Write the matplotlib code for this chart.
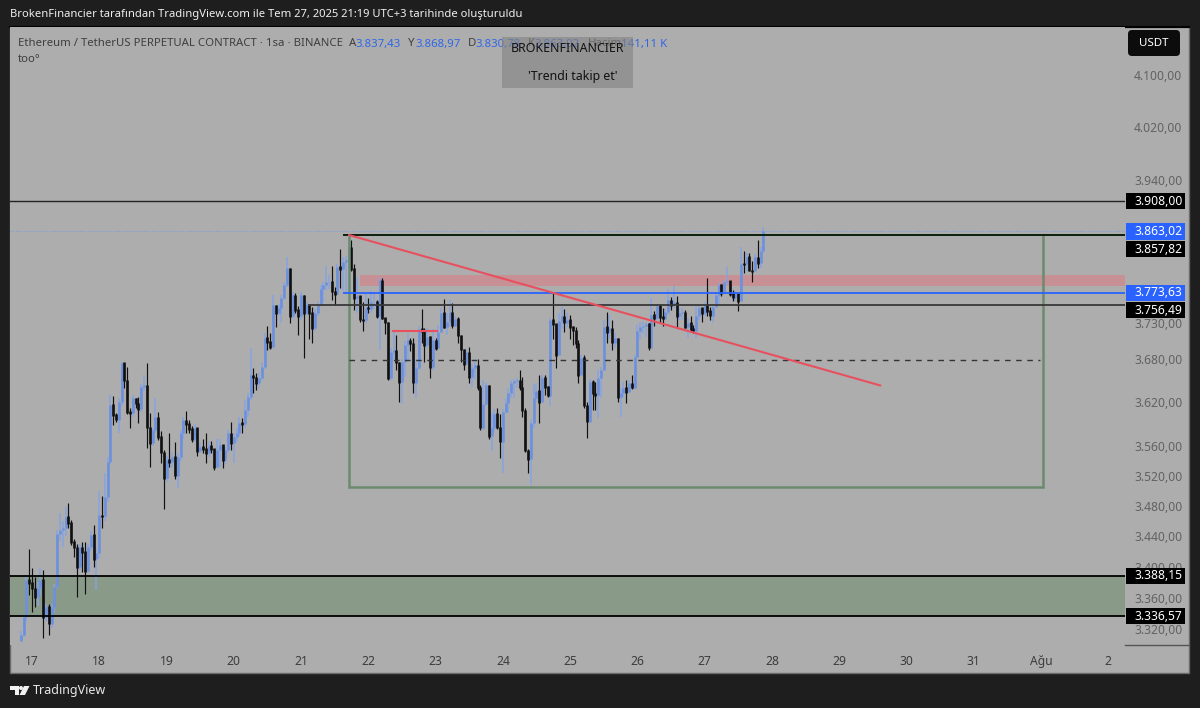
import matplotlib
matplotlib.use("Agg")
import matplotlib.pyplot as plt
from matplotlib.patches import Rectangle, Polygon, Circle, FancyBboxPatch
from matplotlib.ticker import NullLocator
from matplotlib.transforms import IdentityTransform

# hourly bars, open = previous close
first_open = 3305
closes = [3313, 3335, 3383, 3379, 3372, 3361, 3372, 3383, 3335, 3348,
          3327, 3348, 3374, 3443, 3448, 3451, 3465, 3457, 3432, 3425,
          3399, 3425, 3419, 3394, 3425, 3441, 3410, 3418, 3467, 3466,
          3491, 3538, 3616, 3602, 3596, 3620, 3674, 3650, 3606, 3605,
          3625, 3618, 3610, 3641, 3643, 3585, 3564, 3581, 3599, 3572,
          3551, 3517, 3541, 3538, 3545, 3520, 3545, 3577, 3595, 3590,
          3583, 3569, 3585, 3553, 3559, 3556, 3550, 3560, 3556, 3531,
          3554, 3561, 3541, 3554, 3577, 3564, 3572, 3577, 3591, 3590,
          3609, 3627, 3657, 3654, 3646, 3653, 3668, 3710, 3704, 3697,
          3756, 3745, 3752, 3766, 3785, 3809, 3740, 3770, 3749, 3740,
          3770, 3745, 3756, 3745, 3723, 3745, 3756, 3780, 3785, 3789,
          3790, 3776, 3772, 3811, 3808, 3818, 3822, 3840, 3808, 3766,
          3769, 3736, 3735, 3752, 3751, 3760, 3761, 3740, 3792, 3738,
          3731, 3653, 3689, 3692, 3675, 3648, 3675, 3699, 3706, 3702,
          3647, 3667, 3722, 3719, 3699, 3711, 3668, 3706, 3695, 3718,
          3745, 3725, 3732, 3746, 3727, 3737, 3713, 3693, 3673, 3689,
          3655, 3667, 3671, 3640, 3585, 3618, 3643, 3573, 3585, 3604,
          3585, 3566, 3606, 3619, 3633, 3646, 3649, 3650, 3640, 3608,
          3554, 3542, 3591, 3625, 3635, 3620, 3654, 3641, 3629, 3735,
          3729, 3685, 3733, 3740, 3731, 3735, 3725, 3720, 3702, 3657,
          3681, 3615, 3593, 3648, 3632, 3630, 3654, 3664, 3725, 3718,
          3723, 3703, 3709, 3627, 3632, 3640, 3634, 3646, 3640, 3682,
          3720, 3725, 3727, 3729, 3696, 3742, 3738, 3755, 3739, 3737,
          3746, 3763, 3756, 3760, 3740, 3745, 3746, 3725, 3731, 3722,
          3720, 3740, 3752, 3745, 3756, 3748, 3741, 3754, 3771, 3785,
          3773, 3789, 3791, 3772, 3767, 3773, 3762, 3816, 3815, 3826,
          3806, 3805, 3825, 3817, 3835, 3863.02]
highs = [3318, 3338, 3388, 3423, 3398, 3387, 3380, 3398, 3395, 3352,
         3352, 3352, 3378, 3448, 3470, 3460, 3478, 3483, 3461, 3436,
         3430, 3430, 3432, 3432, 3430, 3446, 3454, 3425, 3500, 3493,
         3524, 3545, 3630, 3628, 3605, 3625, 3676, 3671, 3668, 3612,
         3630, 3626, 3627, 3645, 3657, 3674, 3605, 3585, 3625, 3606,
         3580, 3554, 3546, 3577, 3552, 3565, 3550, 3582, 3600, 3608,
         3595, 3587, 3590, 3577, 3565, 3569, 3577, 3567, 3567, 3555,
         3570, 3570, 3561, 3558, 3582, 3592, 3578, 3585, 3600, 3598,
         3623, 3632, 3696, 3667, 3660, 3660, 3675, 3716, 3727, 3716,
         3770, 3756, 3758, 3770, 3790, 3825, 3809, 3775, 3773, 3755,
         3775, 3770, 3760, 3756, 3753, 3750, 3760, 3785, 3790, 3813,
         3800, 3812, 3782, 3816, 3838, 3825, 3827, 3858, 3850, 3815,
         3796, 3769, 3760, 3772, 3766, 3777, 3775, 3763, 3797, 3795,
         3738, 3732, 3695, 3720, 3713, 3675, 3680, 3705, 3716, 3710,
         3710, 3680, 3726, 3751, 3723, 3723, 3712, 3722, 3709, 3728,
         3752, 3765, 3745, 3763, 3759, 3741, 3739, 3713, 3694, 3694,
         3697, 3673, 3680, 3680, 3643, 3650, 3647, 3643, 3605, 3610,
         3612, 3604, 3610, 3625, 3640, 3650, 3652, 3653, 3664, 3655,
         3612, 3556, 3596, 3645, 3646, 3658, 3658, 3657, 3642, 3738,
         3775, 3725, 3745, 3753, 3751, 3745, 3742, 3726, 3725, 3706,
         3685, 3685, 3620, 3652, 3650, 3648, 3665, 3668, 3735, 3746,
         3742, 3735, 3716, 3709, 3640, 3648, 3650, 3650, 3658, 3686,
         3728, 3732, 3732, 3732, 3730, 3766, 3748, 3758, 3756, 3752,
         3750, 3780, 3768, 3783, 3769, 3752, 3752, 3749, 3738, 3741,
         3728, 3755, 3755, 3752, 3760, 3795, 3754, 3756, 3774, 3788,
         3787, 3792, 3811, 3790, 3778, 3776, 3773, 3840, 3834, 3832,
         3831, 3820, 3830, 3850, 3840, 3868.97]
lows = [3305, 3310, 3330, 3364, 3342, 3348, 3350, 3362, 3309, 3330,
        3312, 3322, 3340, 3372, 3434, 3425, 3440, 3450, 3428, 3412,
        3361, 3395, 3393, 3365, 3392, 3420, 3399, 3370, 3410, 3451,
        3460, 3485, 3535, 3588, 3593, 3577, 3615, 3640, 3604, 3584,
        3600, 3612, 3591, 3606, 3635, 3557, 3531, 3560, 3578, 3568,
        3537, 3476, 3512, 3531, 3530, 3516, 3504, 3540, 3570, 3578,
        3578, 3566, 3565, 3546, 3550, 3550, 3537, 3545, 3550, 3527,
        3530, 3531, 3530, 3536, 3550, 3555, 3537, 3565, 3572, 3577,
        3585, 3600, 3623, 3632, 3636, 3640, 3650, 3666, 3693, 3694,
        3695, 3725, 3742, 3731, 3764, 3782, 3731, 3738, 3745, 3714,
        3735, 3681, 3742, 3708, 3702, 3720, 3740, 3755, 3760, 3778,
        3780, 3763, 3756, 3770, 3781, 3777, 3775, 3775, 3806, 3749,
        3745, 3732, 3719, 3730, 3745, 3745, 3750, 3738, 3692, 3736,
        3715, 3651, 3650, 3680, 3664, 3620, 3618, 3655, 3675, 3691,
        3633, 3626, 3664, 3702, 3675, 3695, 3654, 3665, 3693, 3695,
        3716, 3723, 3713, 3725, 3724, 3725, 3702, 3675, 3664, 3675,
        3647, 3641, 3650, 3636, 3581, 3581, 3615, 3569, 3553, 3580,
        3583, 3543, 3524, 3605, 3605, 3625, 3625, 3640, 3637, 3600,
        3552, 3524, 3507, 3585, 3620, 3591, 3620, 3630, 3627, 3615,
        3708, 3667, 3685, 3722, 3718, 3725, 3708, 3700, 3695, 3646,
        3657, 3612, 3571, 3593, 3609, 3609, 3598, 3625, 3664, 3703,
        3708, 3692, 3695, 3620, 3600, 3625, 3619, 3632, 3638, 3638,
        3682, 3708, 3715, 3711, 3693, 3696, 3727, 3735, 3731, 3727,
        3735, 3742, 3749, 3752, 3725, 3735, 3735, 3724, 3710, 3718,
        3717, 3709, 3735, 3732, 3740, 3740, 3735, 3731, 3753, 3758,
        3769, 3772, 3785, 3769, 3762, 3762, 3748, 3762, 3803, 3806,
        3805, 3790, 3805, 3809, 3809, 3830.78]
first_day = 16 + 20 / 24

price_ticks = [4100, 4020, 3940, 3780, 3730, 3680, 3620, 3560, 3520, 3480, 3440, 3400, 3360, 3320]
price_labels = ["4.100,00", "4.020,00", "3.940,00", "3.780,00", "3.730,00", "3.680,00", "3.620,00",
                "3.560,00", "3.520,00", "3.480,00", "3.440,00", "3.400,00", "3.360,00", "3.320,00"]
day_ticks = [17, 18, 19, 20, 21, 22, 23, 24, 25, 26, 27, 28, 29, 30, 31, 32, 33]
day_labels = ["17", "18", "19", "20", "21", "22", "23", "24", "25", "26", "27", "28", "29", "30", "31", "Ağu", "2"]

# levels drawn on the chart
zone_low, zone_high = 3336.57, 3388.15
level_top = 3908.00
level_last = 3863.02
level_box_top = 3857.82
level_blue = 3773.63
level_grey = 3756.49
box_bottom = 3504.5
box_mid = 3678
band_low, band_high = 3784, 3799
band_start = 21.877
box_days = (21.714, 32.03)
trend_days = [21.714, 29.61]
trend_prices = [3857.82, 3643]
short_days = [22.37, 23.02]
short_prices = [3720, 3720]

# tags on the price scale, some pushed off their level so they do not collide
tags = [(level_top, "3.908,00", "black"), (3837, "3.857,82", "black"),
        (level_last, "3.863,02", "#2962ff"), (3749, "3.756,49", "black"),
        (level_blue, "3.773,63", "#2962ff"), (zone_high, "3.388,15", "black"),
        (zone_low, "3.336,57", "black")]

plt.rcParams['font.family'] = ['Noto Sans', 'DejaVu Sans']
W, H = 1200, 708
BG = "#adadad"
UP = "#6d90dd"
UP_WICK = "#86a3e0"
DOWN = "#101010"

fig = plt.figure(figsize=(W / 100, H / 100), dpi=100, facecolor="#1e1e1e")
px_tr = IdentityTransform()


def fx(x):
    return x / W


def fy(y):
    return 1 - y / H


# grey panel behind the chart and the scales
fig.add_artist(Rectangle((fx(10), fy(672.5)), (1189 - 10) / W, (672.5 - 27) / H, transform=fig.transFigure,
                         facecolor=BG, edgecolor="#6a6a6a", linewidth=1, zorder=-5))
fig.add_artist(plt.Line2D([fx(10), fx(1189)], [fy(26.5), fy(26.5)], color="black", lw=1.5, zorder=-4))
fig.add_artist(plt.Line2D([fx(1125), fx(1189)], [fy(645), fy(645)], color="#555555", lw=1, zorder=-4))

ax = fig.add_axes([fx(10), fy(645), (1125 - 10) / W, (645 - 27) / H], facecolor=BG)
ax.set_yscale("log")
ax.set_xlim(16.673, 33.25)
ax.set_ylim(3300, 4176)
for s in ax.spines.values():
    s.set_visible(False)
ax.yaxis.tick_right()
ax.yaxis.set_minor_locator(NullLocator())
ax.set_yticks(price_ticks)
ax.set_yticklabels(price_labels)
ax.set_xticks(day_ticks)
ax.set_xticklabels(day_labels)
ax.tick_params(axis="y", length=0, pad=6.5, labelsize=8.7, labelcolor="#626262")
ax.tick_params(axis="x", length=0, pad=7, labelsize=8.7, labelcolor="#3c3c3c")

# zones under the candles
ax.axhspan(zone_low, zone_high, color="#8a9a88", lw=0, zorder=1)
ax.fill_between([band_start, 33.25], band_low, band_high, color="#c79094", lw=0, zorder=1)

# candles
days = [first_day + i / 24 for i in range(len(closes))]
opens = [first_open] + closes[:-1]
up_x = [d for d, o, c in zip(days, opens, closes) if c >= o]
down_x = [d for d, o, c in zip(days, opens, closes) if c < o]
up = [i for i in range(len(closes)) if closes[i] >= opens[i]]
down = [i for i in range(len(closes)) if closes[i] < opens[i]]
ax.vlines(up_x, [lows[i] for i in up], [highs[i] for i in up], color=UP_WICK, lw=1.1, zorder=3, capstyle="butt")
ax.vlines(up_x, [opens[i] for i in up], [closes[i] for i in up], color=UP, lw=1.9, zorder=3, capstyle="butt")
ax.vlines(down_x, [lows[i] for i in down], [highs[i] for i in down], color=DOWN, lw=0.85, zorder=4, capstyle="butt")
ax.vlines(down_x, [closes[i] - 1 for i in down], [opens[i] + 1 for i in down], color=DOWN, lw=1.9, zorder=4, capstyle="butt")

# drawings on top
ax.axhline(level_top, color="#222222", lw=1, zorder=5)
ax.axhline(level_last, color="#7d9be0", lw=0.8, ls=(0, (1, 1.5)), zorder=5)
ax.axhline(zone_high, color="black", lw=1.3, zorder=5)
ax.axhline(zone_low, color="black", lw=1.3, zorder=5)
ax.plot([box_days[0], box_days[0], box_days[1], box_days[1]], [level_box_top, box_bottom, box_bottom, level_box_top],
        color="#6b8a6e", lw=1.8, zorder=5, solid_joinstyle="miter")
ax.hlines(level_box_top, box_days[0] - 0.09, 33.25, color="#0c1f0e", lw=1.4, zorder=6)
ax.hlines(level_blue, box_days[0] - 0.09, 33.25, color="#2962ff", lw=1.3, zorder=6)
ax.hlines(level_grey, 21.1, 33.25, color="#383838", lw=1.3, zorder=6)
ax.hlines(box_mid, box_days[0], box_days[1] - 0.04, color="#333333", lw=1, ls=(0, (4, 4)), zorder=6)
ax.plot(trend_days, trend_prices, color="#e8505f", lw=1.5, zorder=7)
ax.plot(short_days, short_prices, color="#e8505f", lw=1.5, zorder=7)

# price tags on the scale, placed through the axis so they follow the price
for price, label, colour in tags:
    yc = ax.transData.transform((20, price))[1]
    fig.add_artist(Rectangle((1126, yc - 8.2), 59, 16.4, transform=px_tr, facecolor=colour, edgecolor="none", zorder=6))
    fig.text(1134, yc, label, transform=px_tr, ha="left", va="center", color="white", fontsize=8.7,
             fontweight="semibold", zorder=7)

# USDT button
fig.add_artist(FancyBboxPatch((1128, H - 56), 52, 26, boxstyle="round,pad=0,rounding_size=4", transform=px_tr,
                              facecolor="#0c0c0c", edgecolor="none", zorder=6))
fig.text(fx(1154), fy(43), "USDT", ha="center", va="center", color="white", fontsize=8.3, fontweight="semibold", zorder=7)

# header and legend
fig.text(fx(10), fy(15), "BrokenFinancier tarafından TradingView.com ile Tem 27, 2025 21:19 UTC+3 tarihinde oluşturuldu",
         color="#f0f0f0", fontsize=8.08, fontweight="medium", va="center", ha="left")
LEG = "#3f3f3f"
LEG_BLUE = "#2f66e8"
fig.text(fx(18), fy(44), "Ethereum / TetherUS PERPETUAL CONTRACT · 1sa · BINANCE", color=LEG, fontsize=8.2, va="center")
legend_parts = [(349, "A", LEG), (355.5, "3.837,43", LEG_BLUE), (408, "Y", LEG), (415, "3.868,97", LEG_BLUE),
                (468, "D", LEG), (475, "3.830,78", LEG_BLUE), (528, "K", LEG), (534, "3.863,02", LEG_BLUE),
                (588, "Hacim", LEG), (621, "141,11 K", LEG_BLUE)]
for px, s, c in legend_parts:
    fig.text(fx(px), fy(44), s, color=c, fontsize=8.2, va="center")
fig.text(fx(18), fy(59), "too°", color=LEG, fontsize=8.2, va="center")

# text note box, the legend shows faintly through it
fig.add_artist(Rectangle((fx(502), fy(88)), 131 / W, 51 / H, transform=fig.transFigure,
                         facecolor="#838383", edgecolor="none", alpha=0.62, zorder=8))
fig.text(fx(568), fy(48.5), "BROKENFINANCIER", color="#111111", fontsize=8.9, ha="center", va="center", zorder=9)
fig.text(fx(573), fy(76.5), "'Trendi takip et'", color="#111111", fontsize=8.9, ha="center", va="center", zorder=9)

# TradingView logo
logo = "#f2f2f2"
fig.add_artist(Polygon([(fx(10), fy(686)), (fx(18.5), fy(686)), (fx(18.5), fy(695)), (fx(14.5), fy(695)),
                        (fx(14.5), fy(690)), (fx(10), fy(690))], closed=True, transform=fig.transFigure,
                       facecolor=logo, edgecolor="none"))
fig.add_artist(Polygon([(fx(24), fy(686)), (fx(29.5), fy(686)), (fx(25), fy(695)), (fx(19.5), fy(695))], closed=True,
                       transform=fig.transFigure, facecolor=logo, edgecolor="none"))
fig.add_artist(Circle((21, H - 688), 2, transform=px_tr, facecolor=logo, edgecolor="none"))
fig.text(fx(33), fy(690.5), "TradingView", color="#e8e8e8", fontsize=9, va="center", ha="left")

fig.savefig("out.png", dpi=100, facecolor=fig.get_facecolor())
